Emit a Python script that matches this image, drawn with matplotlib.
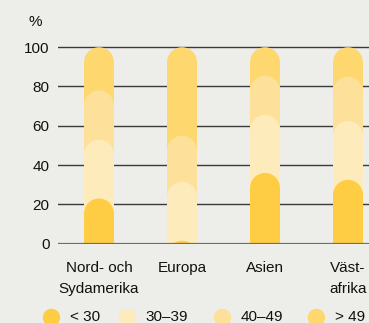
import matplotlib
matplotlib.use("Agg")
import matplotlib.pyplot as plt
from matplotlib.patches import Rectangle, Ellipse
from matplotlib.lines import Line2D

plt.rcParams['font.family'] = ['Liberation Sans', 'DejaVu Sans']

categories = ["Nord- och\nSydamerika", "Europa", "Asien", "Väst-\nafrika"]
groups = ["< 30", "30–39", "40–49", "> 49"]
under_30 = [23, 1.5, 36, 32.5]
age_30_39 = [30, 30, 29.5, 30]
age_40_49 = [25, 23.5, 20, 22.5]
over_49 = [22, 45, 14.5, 15]
colors = ["#FFCD44", "#FEEBBC", "#FDE09A", "#FED76F"]
yticks = [0, 20, 40, 60, 80, 100]

bg = "#EDEDEA"
txt = "#111111"
fs = 11
W, H = 369, 323
fig = plt.figure(figsize=(W / 100, H / 100), dpi=100, facecolor=bg)

# axes placed in pixels: left edge, baseline and the 100 line
ax_left, ax_bottom = 58, H - 243.7
px_per_unit = 1.965
ymax = 102
ax = fig.add_axes([ax_left / W, ax_bottom / H, 1 - ax_left / W, ymax * px_per_unit / H])
ax.set_facecolor(bg)
xlim = (-0.494, 3.253)
ax.set_xlim(*xlim)
ax.set_ylim(0, ymax)
for s in ax.spines.values():
    s.set_visible(False)
ax.set_xticks([])
ax.set_yticks(yticks)
ax.tick_params(axis='y', length=0, pad=6, labelsize=fs, labelcolor=txt)
for t in yticks[1:]:
    ax.axhline(t, color="#3a3a3a", lw=1.0, zorder=0.5)
ax.axhline(0, color="#6e6e6e", lw=1.6, zorder=5)

# rounded-top columns, drawn from the full stack down to the front layer
bar_w = 0.36
ax_w_px = W - ax_left
px_per_x = ax_w_px / (xlim[1] - xlim[0])
ry = (bar_w * px_per_x / 2) / px_per_unit

layers = [under_30, age_30_39, age_40_49, over_49]
for i in range(len(categories)):
    tops = []
    total = 0
    for layer in layers:
        total += layer[i]
        tops.append(total)
    for k in range(len(layers) - 1, -1, -1):
        h = tops[k]
        body = max(h - ry, 0)
        ax.add_patch(Rectangle((i - bar_w / 2, 0), bar_w, body, color=colors[k], lw=0, zorder=2))
        ax.add_patch(Ellipse((i, h - ry), bar_w, 2 * ry, color=colors[k], lw=0, zorder=2))

for i, c in enumerate(categories):
    ax.text(i, -17 / px_per_unit, c, ha='center', va='top', fontsize=fs,
            color=txt, linespacing=1.62, clip_on=False)

fig.text(35 / W, 1 - 22 / H, "%", ha='center', va='center', fontsize=fs, color=txt)

# legend row
legend_x = [50.7, 126.7, 221.7, 316]
legend_y = 1 - 316.7 / H
for x, g, col in zip(legend_x, groups, colors):
    fig.add_artist(Line2D([x / W], [legend_y], marker='o', markersize=11.5,
                          color=col, lw=0, transform=fig.transFigure))
    fig.text((x + 19) / W, legend_y, g, ha='left', va='center', fontsize=fs, color=txt)

fig.savefig("out.png", dpi=100, facecolor=bg)
